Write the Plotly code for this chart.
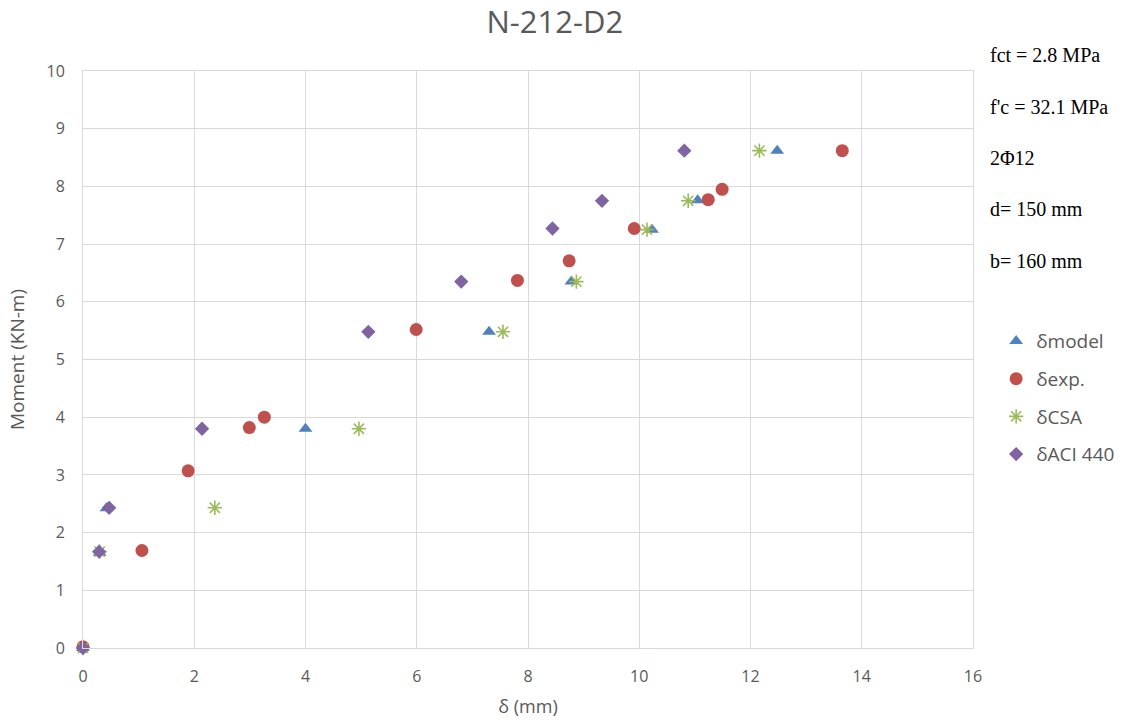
import plotly.graph_objects as go

# δmodel
model_x = [0, 0.3, 0.42, 4.0, 7.3, 8.78, 10.23, 11.05, 12.48]
model_y = [0, 1.65, 2.42, 3.8, 5.48, 6.35, 7.25, 7.76, 8.62]
# δexp.
exp_x = [0, 1.06, 1.89, 2.99, 3.26, 5.99, 7.81, 8.74, 9.91, 11.24, 11.49, 13.65]
exp_y = [0.02, 1.69, 3.07, 3.82, 4.0, 5.52, 6.37, 6.71, 7.27, 7.77, 7.95, 8.62]
# δCSA
csa_x = [0, 0.3, 2.37, 4.96, 7.55, 8.87, 10.14, 10.88, 12.16]
csa_y = [0, 1.67, 2.43, 3.8, 5.48, 6.35, 7.25, 7.75, 8.62]
# δACI 440
aci_x = [0, 0.29, 0.47, 2.14, 5.13, 6.8, 8.44, 9.33, 10.81]
aci_y = [0, 1.67, 2.43, 3.8, 5.48, 6.35, 7.27, 7.75, 8.62]

notes = ["fct = 2.8 MPa", "f'c = 32.1 MPa", "2Φ12", "d= 150 mm", "b= 160 mm"]

BLUE = "#4F81BD"
RED = "#C0504D"
GREEN = "#9BBB59"
PURPLE = "#8064A2"

fig = go.Figure()
fig.add_trace(go.Scatter(x=model_x, y=model_y, mode="markers", name="δmodel",
                         legendgroup="a",
                         marker=dict(symbol="triangle-up", size=12, color=BLUE),
                         cliponaxis=False))
fig.add_trace(go.Scatter(x=exp_x, y=exp_y, mode="markers", name="δexp.",
                         legendgroup="b",
                         marker=dict(symbol="circle", size=13, color=RED),
                         cliponaxis=False))
fig.add_trace(go.Scatter(x=csa_x, y=csa_y, mode="markers", name="δCSA",
                         legendgroup="c",
                         marker=dict(symbol="asterisk-open", size=12, color=GREEN,
                                     line=dict(color=GREEN, width=1.6)),
                         cliponaxis=False))
fig.add_trace(go.Scatter(x=aci_x, y=aci_y, mode="markers", name="δACI 440",
                         legendgroup="d",
                         marker=dict(symbol="diamond", size=11, color=PURPLE),
                         cliponaxis=False))

for i, t in enumerate(notes):
    fig.add_annotation(text=t, xref="paper", yref="paper",
                       x=(988 - 83) / 890, y=(648 - (55 + i * 51.5)) / 577,
                       xanchor="left", yanchor="middle", showarrow=False,
                       font=dict(family="Liberation Serif", size=20, color="#000000"))

fig.update_layout(
    width=1138, height=727,
    margin=dict(l=83, r=165, t=71, b=79),
    paper_bgcolor="white", plot_bgcolor="white",
    title=dict(text="N-212-D2", x=0.4875, xanchor="center", y=0.97, yanchor="middle",
               font=dict(family="Open Sans", size=31, color="#595959")),
    font=dict(family="Open Sans", color="#595959"),
    showlegend=True,
    legend=dict(x=1.026, xanchor="left", y=0.434, yanchor="middle",
                font=dict(size=19, color="#595959"),
                traceorder="grouped", tracegroupgap=10, itemwidth=30,
                bgcolor="rgba(0,0,0,0)"),
    xaxis=dict(range=[0, 16], dtick=2, tick0=0, showgrid=True, gridcolor="#D9D9D9",
               gridwidth=1, zeroline=False, ticks="", ticklabelstandoff=14,
               tickfont=dict(size=16, color="#595959"),
               title=dict(text="δ (mm)", font=dict(size=18, color="#595959"), standoff=14)),
    yaxis=dict(range=[0, 10], dtick=1, tick0=0, showgrid=True, gridcolor="#D9D9D9",
               gridwidth=1, zeroline=False, ticks="", ticklabelstandoff=14,
               tickfont=dict(size=16, color="#595959"),
               title=dict(text="Moment (KN-m)", font=dict(size=19, color="#595959"), standoff=16)),
)
fig.update_xaxes(showline=True, linecolor="#D9D9D9", mirror=True)
fig.update_yaxes(showline=True, linecolor="#D9D9D9", mirror=True)

fig.write_html("out.html")
